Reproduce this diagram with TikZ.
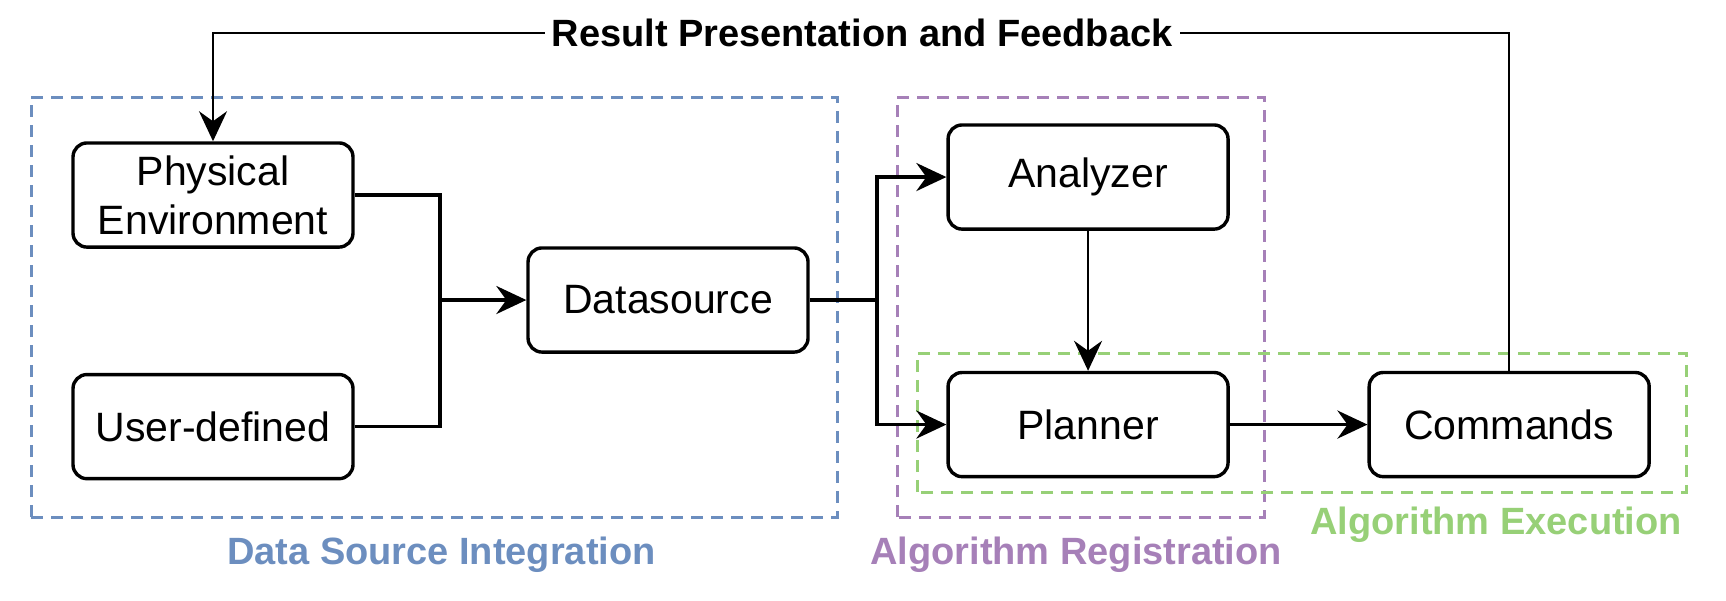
\documentclass[tikz,border=0pt]{standalone}
\usepackage{fontspec}
\setmainfont{Liberation Sans}
\usepackage{tikz}
\usetikzlibrary{arrows.meta, positioning, calc}
\definecolor{groupblue}{HTML}{6C8EBF}
\definecolor{grouppurple}{HTML}{A680B8}
\definecolor{groupgreen}{HTML}{97D077}

\begin{document}
\begin{tikzpicture}[
    every node/.style={font=\fontsize{20.5}{24.5}\selectfont},
    block/.style={draw, rounded corners=7pt, minimum width=4.92cm, minimum height=1.83cm, align=center, line width=1.7pt, inner sep=2pt},
    group/.style={dashed, dash pattern=on 6pt off 4pt, line width=1.5pt},
    grouplabel/.style={font=\fontsize{19}{22}\selectfont\bfseries},
    arrow/.style={-{Stealth[length=15pt, width=14pt, inset=5pt]}, line width=1.8pt},
    thinarrow/.style={-{Stealth[length=15pt, width=14pt, inset=5pt]}, line width=1.3pt}
]
    \useasboundingbox (0,0) rectangle (30.33,10.544);

    % Groups
    \draw[group, draw=groupblue] (0.545,1.459) rectangle (14.709,8.839);
    \draw[group, draw=grouppurple] (15.763,1.459) rectangle (22.212,8.839);
    \draw[group, draw=groupgreen] (16.114,1.898) rectangle (29.628,4.341);

    % Data source integration
    \node[block] (phys) at (3.743,7.117) {Physical\\Environment};
    \node[block, below=2.18cm of phys] (user) {User-defined};
    \node[block] (ds) at (11.739,5.272) {Datasource};

    % Algorithm registration and execution
    \node[block] (ana) at (19.12,7.433) {Analyzer};
    \node[block, below=2.46cm of ana] (plan) {Planner};
    \node[block, right=2.42cm of plan] (cmd) {Commands};

    % Labels
    \node[grouplabel] (fb) at (15.148,9.963) {Result Presentation and Feedback};
    \node[grouplabel, text=groupblue] (dslabel) at (7.758,0.80) {Data Source Integration};
    \node[grouplabel, text=grouppurple] (reglabel) at (18.91,0.80) {Algorithm Registration};
    \node[grouplabel, text=groupgreen] (exlabel) at (26.29,1.33) {Algorithm Execution};

    \coordinate (merge) at (7.732,5.272);
    \coordinate (split) at (15.412,5.272);

    % Arrows
    \draw[line width=1.8pt] (phys.east) -| (merge);
    \draw[line width=1.8pt] (user.east) -| (merge);
    \draw[arrow] (merge) -- (ds);
    \draw[line width=1.8pt] (ds.east) -- (split);
    \draw[arrow] (split) |- (ana.west);
    \draw[arrow] (split) |- (plan.west);
    \draw[thinarrow] (ana) -- (plan);
    \draw[arrow] (plan) -- (cmd);
    \draw[line width=1.3pt] (cmd.north) |- (fb.east);
    \draw[thinarrow] (fb.west) -| (phys.north);
\end{tikzpicture}
\end{document}
